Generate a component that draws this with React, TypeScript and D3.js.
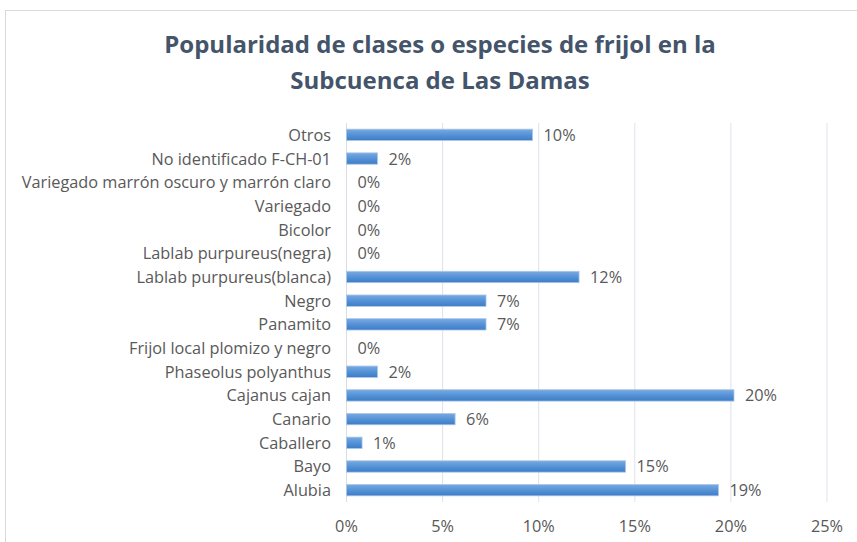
import React from "react";
import * as d3 from "d3";

const categories = [
  "Alubia",
  "Bayo",
  "Caballero",
  "Canario",
  "Cajanus cajan ",
  "Phaseolus polyanthus",
  "Frijol local plomizo y negro",
  "Panamito",
  "Negro",
  "Lablab purpureus(blanca)",
  "Lablab purpureus(negra)",
  "Bicolor",
  "Variegado ",
  "Variegado marrón oscuro y marrón claro",
  "No identificado F-CH-01",
  "Otros",
];
const values = [19.35, 14.52, 0.81, 5.65, 20.16, 1.61, 0, 7.26, 7.26, 12.1, 0, 0, 0, 0, 1.61, 9.68];
const valueLabels = ["19%", "15%", "1%", "6%", "20%", "2%", "0%", "7%", "7%", "12%", "0%", "0%", "0%", "0%", "2%", "10%"];
const ticks = [0, 5, 10, 15, 20, 25];
const titleLines = ["Popularidad de clases o especies de frijol en la", "Subcuenca de Las Damas"];

const W = 857;
const H = 542;
const font = "'Open Sans', sans-serif";

export default function App() {
  const x = d3.scaleLinear().domain([0, 25]).range([346.5, 827]);
  const y = d3
    .scaleBand<string>()
    .domain([...categories].reverse())
    .range([123, 502])
    .paddingInner(0.52)
    .paddingOuter(0.26);
  const bh = y.bandwidth();
  const textColor = "#595959";
  const fs = 16.3;
  return (
    <svg width={W} height={H} style={{ position: "absolute", left: 0, top: 0, background: "#fff" }}>
      <defs>
        <linearGradient id="barGrad" x1="0" y1="0" x2="0" y2="1">
          <stop offset="0%" stopColor="#79aae0" />
          <stop offset="50%" stopColor="#5592d6" />
          <stop offset="100%" stopColor="#3d7cc6" />
        </linearGradient>
      </defs>
      <rect x={5.5} y={10.5} width={W + 20} height={H + 20} fill="#fff" stroke="#d9d9d9" strokeWidth={1} />
      {titleLines.map((t, i) => (
        <text
          key={i}
          x={440}
          y={53 + i * 36}
          textAnchor="middle"
          fontFamily={font}
          fontWeight={700}
          fontSize={24}
          fill="#44546a"
        >
          {t}
        </text>
      ))}
      {ticks.map((t) => (
        <g key={t}>
          {t > 0 && (
            <line x1={x(t)} x2={x(t)} y1={123} y2={502} stroke="#dde3ec" strokeWidth={1} />
          )}
          <text
            x={x(t)}
            y={532}
            textAnchor="middle"
            fontFamily={font}
            fontSize={fs}
            fill={textColor}
          >
            {t}%
          </text>
        </g>
      ))}
      <line x1={x(0)} x2={x(0)} y1={123} y2={502} stroke="#d9dde5" strokeWidth={1} />
      {categories.map((c, i) => {
        const yc = (y(c) as number) + bh / 2;
        const v = values[i];
        return (
          <g key={c}>
            <text
              x={331}
              y={yc + 6}
              textAnchor="end"
              fontFamily={font}
              fontSize={fs}
              fill={textColor}
            >
              {c}
            </text>
            {v > 0 && (
              <rect
                x={x(0)}
                y={y(c) as number}
                width={x(v) - x(0)}
                height={bh}
                fill="url(#barGrad)"
                stroke="#a9c7ec"
                strokeWidth={0.8}
              />
            )}
            <text
              x={x(v) + 11}
              y={yc + 6}
              fontFamily={font}
              fontSize={fs}
              fill={textColor}
            >
              {valueLabels[i]}
            </text>
          </g>
        );
      })}
    </svg>
  );
}
